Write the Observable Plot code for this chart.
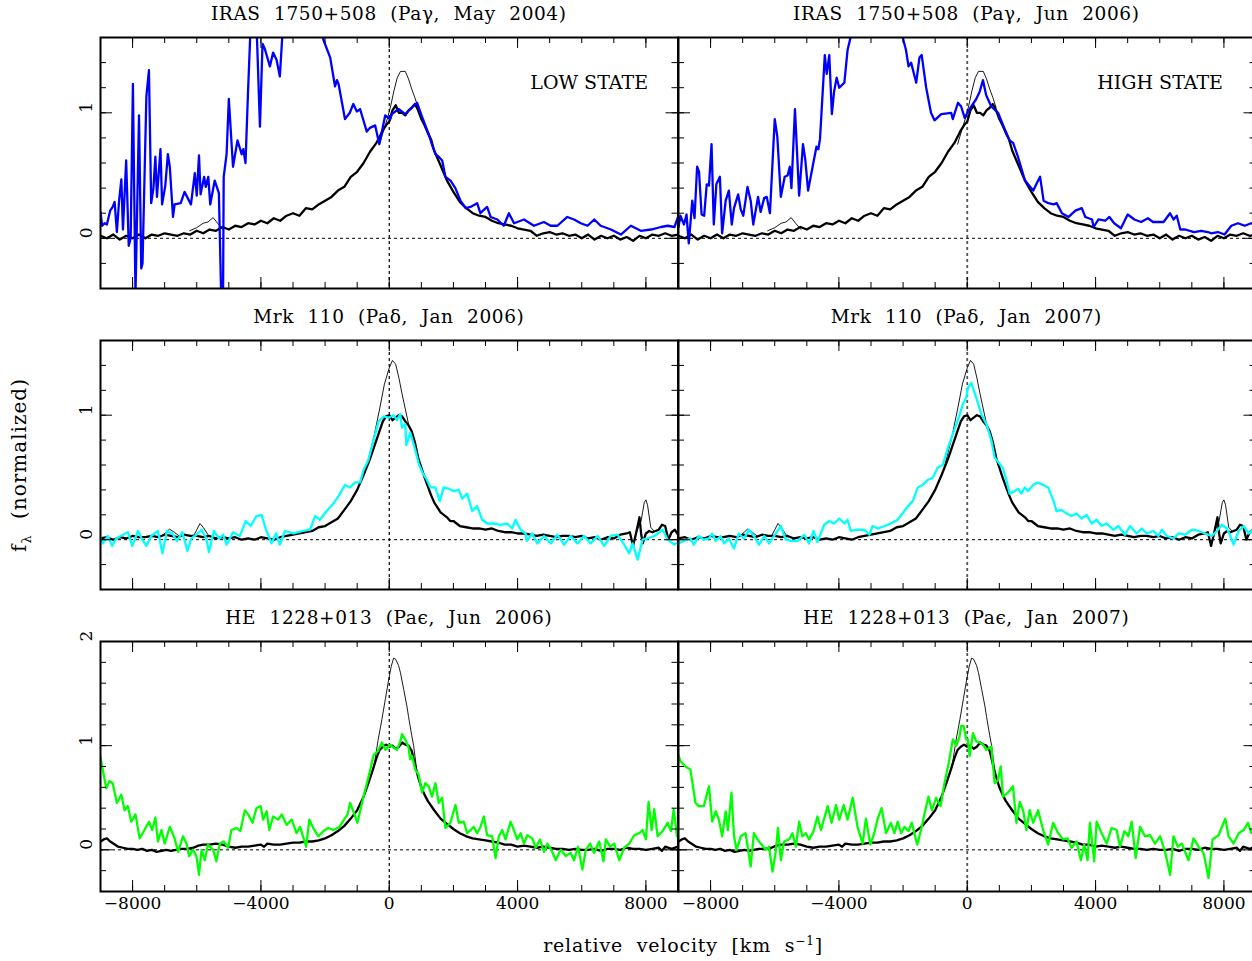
<!DOCTYPE html>
<html><head><meta charset="utf-8">
<script src="https://cdn.jsdelivr.net/npm/d3@7"></script>
<script src="https://cdn.jsdelivr.net/npm/@observablehq/plot@0.6"></script>
<style>
html,body{margin:0;padding:0;background:#fff;overflow:hidden;}
#fig{position:relative;width:1252px;height:961px;font-family:"DejaVu Serif",serif;color:#000;overflow:hidden;}
.ttl{position:absolute;transform:translate(-50%,-50%);white-space:nowrap;font-size:18.5px;letter-spacing:0.6px;word-spacing:7px;}
.ylab{position:absolute;transform:translate(-50%,-50%) rotate(-90deg);white-space:nowrap;font-size:20px;letter-spacing:1px;word-spacing:8px;}
.xlab{position:absolute;transform:translate(-50%,-50%);white-space:nowrap;font-size:19px;letter-spacing:0.8px;word-spacing:7px;}
</style></head><body><div id="fig"></div>
<script>
// ---------- tick values and labels ----------
const velMinorTicks = [-8000,-7000,-6000,-5000,-4000,-3000,-2000,-1000,0,1000,2000,3000,4000,5000,6000,7000,8000];
const velMajorTicks = [-8000,-4000,0,4000,8000];
const velTickLabels = ["\u22128000","\u22124000","0","4000","8000"];
const fluxMinorTicks = [-0.4,-0.2,0,0.2,0.4,0.6,0.8,1.0,1.2,1.4,1.6];
const fluxMinorTicksHE = [-0.4,-0.2,0,0.2,0.4,0.6,0.8,1.0,1.2,1.4,1.6,1.8,2.0];
const fluxMajorTicks = [0,1];
const fluxMajorTicksHE = [0,1,2];
const fluxTickLabels = ["0","1"];
const fluxTickLabelsHE = ["0","1","2"];
const panelTitles = ["IRAS 1750+508 (Pa\u03b3, May 2004)","IRAS 1750+508 (Pa\u03b3, Jun 2006)",
  "Mrk 110 (Pa\u03b4, Jan 2006)","Mrk 110 (Pa\u03b4, Jan 2007)",
  "HE 1228+013 (Pa\u03f5, Jun 2006)","HE 1228+013 (Pa\u03f5, Jan 2007)"];
const stateLabels = ["LOW STATE","HIGH STATE"];

// ---------- IRAS 1750+508 ----------
const irasThick = [[-9000,0.02],[-8800,0.0],[-8600,0.03],[-8400,-0.01],[-8200,0.02],[-8000,0.0],[-7800,0.03],[-7600,0.0],[-7400,0.03],[-7200,0.02],[-7000,0.04],[-6800,0.03],[-6600,0.02],[-6400,0.04],[-6200,0.03],[-6000,0.06],[-5800,0.04],[-5600,0.07],[-5400,0.06],[-5200,0.09],[-5000,0.07],[-4800,0.1],[-4600,0.09],[-4400,0.12],[-4200,0.11],[-4000,0.14],[-3800,0.12],[-3600,0.16],[-3400,0.14],[-3200,0.18],[-3000,0.2],[-2800,0.18],[-2600,0.24],[-2400,0.23],[-2200,0.27],[-2000,0.3],[-1800,0.33],[-1600,0.38],[-1400,0.41],[-1200,0.49],[-1000,0.53],[-800,0.6],[-600,0.69],[-400,0.76],[-200,0.86],[-100,0.9],[0,0.93],[100,1.02],[200,1.06],[300,1.0],[400,1.0],[500,0.98],[600,1.02],[700,1.04],[800,1.07],[900,1.02],[1000,0.95],[1100,0.9],[1200,0.84],[1300,0.79],[1400,0.7],[1500,0.64],[1600,0.58],[1800,0.46],[2000,0.37],[2200,0.29],[2400,0.24],[2600,0.2],[2800,0.18],[3000,0.17],[3200,0.14],[3400,0.12],[3600,0.11],[3800,0.1],[4000,0.08],[4200,0.07],[4400,0.06],[4600,0.02],[4800,0.04],[5000,0.05],[5200,0.03],[5400,0.04],[5600,0.02],[5800,0.03],[6000,0.0],[6200,0.03],[6400,-0.01],[6600,0.02],[6800,0.0],[7000,0.02],[7200,-0.01],[7400,0.01],[7600,-0.02],[7800,0.02],[8000,0.0],[8200,0.03],[8400,0.02],[8600,0.04],[8800,0.02],[9000,0.03]];
const irasThin = [[-6220,0.06,"a"],[-6000,0.085,"a"],[-5800,0.12,"a"],[-5650,0.13,"a"],[-5490,0.165,"a"],[-5350,0.12,"a"],[-5180,0.07,"a"],
  [-300,0.75,"b"],[-150,0.88,"b"],[-50,0.96,"b"],[50,1.06,"b"],[150,1.18,"b"],[250,1.28,"b"],[350,1.33,"b"],[500,1.33,"b"],[600,1.27,"b"],[700,1.19,"b"],[800,1.12,"b"],[900,1.04,"b"]];
const irasMay2004 = [[-9000,0.21],[-8950,0.10],[-8870,0.12],[-8800,0.11],[-8700,0.22],[-8620,0.25],[-8560,0.29],[-8490,0.05],[-8420,0.3],[-8350,0.47],[-8300,0.07],[-8200,0.62],[-8120,-0.06],[-8060,0.0],[-7990,1.23],[-7910,-0.45],[-7800,0.98],[-7730,-0.24],[-7690,-0.2],[-7570,1.13],[-7490,1.34],[-7420,0.28],[-7350,0.4],[-7290,0.65],[-7240,0.33],[-7130,0.71],[-7080,0.27],[-6980,0.42],[-6900,0.67],[-6840,0.57],[-6740,0.17],[-6690,0.27],[-6500,0.28],[-6380,0.37],[-6300,0.33],[-6180,0.27],[-6060,0.52],[-6000,0.34],[-5930,0.66],[-5880,0.35],[-5770,0.49],[-5720,0.41],[-5640,0.49],[-5580,0.27],[-5440,0.46],[-5310,0.36],[-5240,-0.45],[-5180,-0.45],[-5160,0.49],[-5070,0.67],[-5000,1.11],[-4870,0.57],[-4730,0.78],[-4600,0.67],[-4550,0.71],[-4480,0.6],[-4400,1.18],[-4320,1.7],[-4250,1.68],[-4150,1.8],[-4030,0.89],[-3950,1.55],[-3880,1.51],[-3720,1.37],[-3620,1.48],[-3510,1.42],[-3410,1.29],[-3300,1.75],[-3000,1.95],[-2700,2.05],[-2400,1.9],[-2050,1.58],[-1840,1.44],[-1690,1.21],[-1630,1.26],[-1580,1.23],[-1380,0.95],[-1230,1.0],[-1120,1.07],[-1010,1.01],[-910,1.03],[-700,0.85],[-600,0.88],[-440,0.9],[-310,0.75],[-125,0.98],[30,0.95],[80,0.99],[290,1.03],[500,0.99],[660,1.03],[865,1.08],[1020,0.97],[1230,0.83],[1340,0.74],[1440,0.67],[1540,0.65],[1650,0.62],[1750,0.49],[1910,0.46],[2060,0.4],[2220,0.3],[2380,0.24],[2530,0.25],[2740,0.28],[2840,0.2],[3050,0.25],[3160,0.17],[3370,0.15],[3570,0.1],[3730,0.2],[3890,0.12],[4200,0.15],[4510,0.1],[4820,0.13],[5030,0.1],[5240,0.1],[5550,0.17],[5760,0.15],[5970,0.12],[6180,0.1],[6390,0.15],[6590,0.1],[6910,0.07],[7220,0.03],[7530,0.1],[7840,0.06],[8160,0.07],[8470,0.09],[8680,0.1],[8890,0.09],[9000,0.17]];
const irasJun2006 = [[-9000,0.09],[-8940,0.18],[-8830,0.11],[-8750,0.19],[-8680,-0.04],[-8570,0.3],[-8500,0.16],[-8420,0.57],[-8360,0.53],[-8280,0.19],[-8200,0.18],[-8120,0.43],[-8050,0.42],[-7970,0.75],[-7900,0.11],[-7820,0.43],[-7710,0.49],[-7640,0.04],[-7530,0.3],[-7430,0.38],[-7340,0.11],[-7270,0.24],[-7140,0.35],[-7060,0.23],[-6980,0.18],[-6850,0.41],[-6750,0.3],[-6670,0.11],[-6520,0.33],[-6440,0.21],[-6330,0.32],[-6250,0.33],[-6150,0.2],[-6000,0.95],[-5920,0.81],[-5810,0.33],[-5690,0.49],[-5600,0.5],[-5530,0.57],[-5480,0.4],[-5370,1.03],[-5240,0.34],[-5120,0.75],[-5050,0.63],[-4960,0.38],[-4820,0.57],[-4700,0.73],[-4640,0.71],[-4590,0.79],[-4440,1.46],[-4380,1.31],[-4300,1.46],[-4220,0.99],[-4150,1.17],[-4070,1.28],[-3990,1.2],[-3830,1.24],[-3730,1.5],[-3620,1.62],[-3300,1.9],[-3000,2.1],[-2600,2.0],[-2200,1.8],[-2010,1.6],[-1910,1.5],[-1830,1.37],[-1750,1.4],[-1590,1.24],[-1490,1.44],[-1420,1.46],[-1280,1.2],[-1130,1.0],[-1020,0.94],[-810,0.99],[-500,1.0],[-450,0.95],[-290,1.08],[-190,1.05],[-80,0.96],[70,1.03],[280,1.11],[390,1.17],[490,1.26],[590,1.14],[750,1.05],[960,1.0],[1120,0.9],[1320,0.78],[1430,0.76],[1580,0.65],[1800,0.46],[1960,0.41],[2060,0.38],[2170,0.44],[2270,0.49],[2380,0.3],[2530,0.28],[2690,0.27],[2790,0.28],[2950,0.2],[3160,0.17],[3370,0.22],[3570,0.24],[3680,0.17],[3890,0.15],[3940,0.09],[4090,0.15],[4300,0.14],[4430,0.17],[4580,0.12],[4790,0.08],[5000,0.19],[5210,0.15],[5420,0.13],[5630,0.16],[5790,0.13],[6120,0.13],[6320,0.2],[6430,0.15],[6530,0.18],[6640,0.07],[6790,0.07],[7070,0.05],[7290,0.06],[7500,0.05],[7600,0.04],[7810,0.05],[8020,0.03],[8230,0.1],[8440,0.12],[8650,0.1],[8850,0.12],[9000,0.11]];

// ---------- Mrk 110 ----------
const mrkThick = [[-9000,0.01],[-8800,0.02],[-8600,0.0],[-8400,0.02],[-8200,0.01],[-8000,0.03],[-7800,0.02],[-7600,0.02],[-7400,0.03],[-7200,0.02],[-7000,0.04],[-6800,0.03],[-6600,0.02],[-6400,0.04],[-6200,0.03],[-6000,0.03],[-5800,0.02],[-5600,0.03],[-5400,0.01],[-5200,0.02],[-5000,0.01],[-4800,0.02],[-4600,0.0],[-4400,0.01],[-4200,0.0],[-4000,0.02],[-3800,0.01],[-3600,0.0],[-3400,0.02],[-3200,0.03],[-3000,0.04],[-2800,0.05],[-2600,0.06],[-2400,0.07],[-2200,0.1],[-2000,0.11],[-1800,0.14],[-1600,0.17],[-1400,0.24],[-1200,0.31],[-1000,0.4],[-800,0.52],[-600,0.65],[-400,0.8],[-200,0.95],[-100,0.99],[0,1.0],[100,0.96],[200,0.98],[300,1.0],[400,0.99],[500,0.95],[600,0.92],[700,0.87],[800,0.78],[900,0.66],[1000,0.58],[1100,0.5],[1200,0.43],[1300,0.36],[1400,0.3],[1500,0.26],[1600,0.22],[1800,0.18],[1900,0.15],[2000,0.15],[2200,0.11],[2400,0.1],[2600,0.09],[2800,0.09],[3000,0.08],[3200,0.09],[3400,0.07],[3600,0.06],[3800,0.06],[4000,0.05],[4200,0.05],[4400,0.04],[4600,0.03],[4800,0.04],[5000,0.03],[5200,0.02],[5400,0.03],[5600,0.03],[5800,0.02],[6000,0.03],[6200,0.01],[6400,0.02],[6600,0.0],[6800,0.02],[7000,0.01],[7200,0.04],[7400,0.05],[7500,0.06],[7600,-0.05],[7700,0.06],[7800,0.18],[7850,0.05],[7900,-0.03],[8000,0.05],[8100,0.07],[8200,0.06],[8400,0.08],[8500,0.12],[8600,0.11],[8700,0.0],[8800,0.06],[8900,0.08],[9000,0.04]];
const mrkThin = [[-7100,0.03,"a"],[-6950,0.06,"a"],[-6850,0.085,"a"],[-6700,0.06,"a"],[-6550,0.03,"a"],
  [-6100,0.03,"b"],[-6000,0.08,"b"],[-5900,0.13,"b"],[-5800,0.1,"b"],[-5650,0.04,"b"],
  [-700,0.6,"c"],[-500,0.8,"c"],[-300,1.05,"c"],[-150,1.25,"c"],[0,1.38,"c"],[100,1.44,"c"],[200,1.41,"c"],[300,1.3,"c"],[400,1.17,"c"],[500,1.05,"c"],[600,0.93,"c"],
  [7700,0.06,"d"],[7850,0.15,"d"],[7950,0.3,"d"],[8000,0.32,"d"],[8050,0.28,"d"],[8150,0.1,"d"],[8250,0.07,"d"]];
const mrkJan2006 = [[-9030,0.03],[-8930,-0.03],[-8770,0.03],[-8640,-0.05],[-8510,0.01],[-8300,0.04],[-8150,0.06],[-8010,-0.05],[-7830,0.07],[-7700,0.0],[-7570,-0.05],[-7420,0.03],[-7210,0.07],[-7070,-0.11],[-6930,0.07],[-6760,0.05],[-6620,-0.01],[-6450,0.06],[-6290,-0.09],[-6170,0.01],[-6010,0.04],[-5850,0.08],[-5700,0.01],[-5620,-0.1],[-5470,0.07],[-5300,0.01],[-5180,0.04],[-5070,-0.04],[-4870,0.06],[-4660,0.03],[-4470,0.15],[-4320,0.11],[-4140,0.19],[-3980,0.2],[-3840,0.08],[-3670,-0.03],[-3530,0.05],[-3410,-0.04],[-3250,0.07],[-2990,0.05],[-2680,0.07],[-2470,0.08],[-2310,0.19],[-2160,0.16],[-1950,0.23],[-1740,0.29],[-1580,0.35],[-1380,0.44],[-1220,0.42],[-1060,0.46],[-910,0.46],[-800,0.56],[-650,0.64],[-490,0.8],[-330,0.95],[-180,0.99],[-20,0.98],[135,1.0],[240,0.96],[344,1.01],[396,0.9],[500,0.93],[531,0.76],[656,0.86],[813,0.72],[917,0.61],[1052,0.53],[1177,0.48],[1281,0.42],[1438,0.42],[1573,0.31],[1698,0.42],[1854,0.41],[2010,0.39],[2167,0.4],[2271,0.33],[2427,0.37],[2583,0.23],[2740,0.27],[2896,0.16],[3052,0.13],[3260,0.13],[3469,0.12],[3677,0.13],[3833,0.09],[3938,0.16],[4094,0.08],[4250,0.05],[4281,-0.01],[4458,0.05],[4615,-0.03],[4823,0.03],[5031,-0.03],[5240,0.04],[5448,-0.04],[5656,0.03],[5865,-0.03],[6073,0.03],[6281,-0.03],[6490,0.03],[6698,-0.05],[6906,0.03],[7115,0.04],[7323,-0.04],[7479,-0.11],[7583,-0.03],[7740,-0.16],[7896,0.0],[8052,0.01],[8260,0.03],[8521,0.08],[8677,0.0],[8885,-0.04],[9000,-0.02]];
const mrkJan2007 = [[-9000,-0.03],[-8830,-0.01],[-8630,0.01],[-8520,-0.04],[-8370,0.03],[-8210,0.0],[-8050,0.01],[-7950,0.05],[-7840,-0.01],[-7690,0.03],[-7580,-0.03],[-7430,0.01],[-7270,-0.07],[-7120,0.05],[-6960,0.01],[-6800,0.08],[-6650,0.03],[-6490,-0.04],[-6330,0.03],[-6180,-0.03],[-6020,0.03],[-5810,0.11],[-5660,0.0],[-5500,-0.01],[-5290,-0.01],[-5080,0.04],[-4930,-0.03],[-4790,0.07],[-4670,-0.02],[-4460,0.12],[-4300,0.15],[-4150,0.13],[-3990,0.17],[-3830,0.13],[-3730,0.16],[-3630,0.07],[-3420,0.08],[-3210,0.08],[-3050,0.04],[-2950,0.11],[-2790,0.09],[-2580,0.11],[-2380,0.13],[-2170,0.16],[-1960,0.23],[-1850,0.27],[-1700,0.31],[-1540,0.42],[-1390,0.44],[-1230,0.48],[-1070,0.5],[-920,0.58],[-760,0.6],[-600,0.74],[-450,0.85],[-290,0.96],[-135,1.09],[-31,1.14],[21,1.22],[125,1.26],[281,1.14],[437,1.01],[594,0.93],[750,0.8],[854,0.66],[1010,0.61],[1115,0.57],[1219,0.48],[1323,0.37],[1479,0.39],[1583,0.41],[1688,0.37],[1792,0.42],[1896,0.39],[2052,0.44],[2188,0.46],[2365,0.44],[2521,0.42],[2677,0.32],[2781,0.23],[2937,0.24],[3094,0.21],[3250,0.19],[3406,0.21],[3562,0.17],[3719,0.2],[3875,0.13],[4031,0.16],[4188,0.11],[4344,0.13],[4552,0.08],[4708,0.11],[4917,0.04],[5073,0.11],[5281,0.05],[5438,0.09],[5594,0.05],[5802,0.07],[5958,0.03],[6063,0.08],[6219,0.03],[6427,0.01],[6583,0.05],[6792,0.04],[7000,0.08],[7208,0.07],[7417,0.05],[7625,0.03],[7781,0.07],[7938,0.12],[8094,0.09],[8198,0.03],[8302,-0.04],[8458,0.07],[8615,0.11],[8771,0.05],[9000,0.11]];

// ---------- HE 1228+013 ----------
const heThick = [[-9000,0.08],[-8900,0.1],[-8800,0.11],[-8700,0.08],[-8600,0.06],[-8450,0.03],[-8300,0.02],[-8150,0.01],[-8000,0.01],[-7850,0.0],[-7700,0.01],[-7550,-0.01],[-7400,0.0],[-7250,-0.02],[-7100,-0.01],[-6950,0.0],[-6800,-0.01],[-6650,0.0],[-6500,0.01],[-6300,0.01],[-6100,0.02],[-5950,0.04],[-5800,0.05],[-5600,0.05],[-5400,0.06],[-5200,0.05],[-5000,0.03],[-4800,0.02],[-4600,0.03],[-4400,0.03],[-4200,0.04],[-4000,0.05],[-3900,0.03],[-3800,0.06],[-3600,0.05],[-3400,0.05],[-3200,0.06],[-3000,0.07],[-2800,0.07],[-2600,0.08],[-2400,0.08],[-2200,0.09],[-2000,0.11],[-1800,0.14],[-1600,0.18],[-1400,0.23],[-1200,0.3],[-1000,0.38],[-800,0.51],[-650,0.64],[-500,0.78],[-400,0.88],[-300,0.96],[-200,0.99],[-100,1.01],[0,0.99],[100,1.0],[200,0.97],[300,0.99],[400,1.03],[500,1.01],[600,1.0],[700,0.95],[800,0.82],[900,0.7],[1000,0.6],[1100,0.53],[1200,0.47],[1400,0.38],[1600,0.3],[1800,0.25],[2000,0.2],[2200,0.16],[2400,0.13],[2600,0.11],[2800,0.1],[3000,0.09],[3200,0.08],[3400,0.07],[3600,0.05],[3800,0.05],[4000,0.03],[4200,0.04],[4400,0.03],[4600,0.02],[4800,0.03],[5000,0.02],[5200,0.01],[5400,0.01],[5600,0.0],[5800,0.01],[6000,0.0],[6200,0.0],[6400,0.01],[6600,-0.01],[6800,0.01],[7000,0.01],[7200,0.0],[7400,0.02],[7600,0.01],[7800,0.01],[8000,0.0],[8200,0.01],[8400,0.02],[8500,-0.01],[8600,0.03],[8800,0.01],[9000,0.03]];
const heThin = [[-500,0.78,"a"],[-450,0.85,"a"],[-350,1.05,"a"],[-230,1.25,"a"],[-120,1.45,"a"],[-20,1.63,"a"],[60,1.76,"a"],[135,1.84,"a"],[200,1.83,"a"],[290,1.77,"a"],[350,1.7,"a"],[450,1.54,"a"],[550,1.38,"a"],[600,1.28,"a"],[700,1.1,"a"],[760,1.0,"a"],[850,0.78,"a"]];
const heJun2006 = [[-9030,0.93],[-8930,0.77],[-8820,0.59],[-8720,0.66],[-8620,0.64],[-8490,0.45],[-8350,0.53],[-8250,0.38],[-8150,0.42],[-8040,0.27],[-7910,0.34],[-7780,0.11],[-7630,0.19],[-7490,0.27],[-7390,0.19],[-7290,0.31],[-7210,0.08],[-7100,0.19],[-7000,0.06],[-6840,0.22],[-6690,0.11],[-6580,-0.02],[-6430,0.13],[-6320,0.06],[-6240,-0.06],[-6120,0.0],[-6010,-0.06],[-5930,-0.24],[-5850,0.0],[-5750,-0.1],[-5650,0.05],[-5490,0.0],[-5390,-0.11],[-5280,0.06],[-5160,0.08],[-5020,0.02],[-4920,0.19],[-4760,0.21],[-4640,0.18],[-4500,0.38],[-4400,0.34],[-4260,0.26],[-4140,0.4],[-4010,0.42],[-3930,0.29],[-3820,0.37],[-3740,0.19],[-3620,0.32],[-3460,0.29],[-3350,0.34],[-3200,0.24],[-3040,0.29],[-2890,0.16],[-2780,0.22],[-2590,0.03],[-2490,0.29],[-2370,0.21],[-2210,0.13],[-2050,0.18],[-1900,0.21],[-1740,0.19],[-1550,0.22],[-1410,0.29],[-1300,0.34],[-1220,0.45],[-1120,0.37],[-990,0.26],[-850,0.45],[-720,0.61],[-590,0.77],[-490,0.91],[-350,0.95],[-230,1.03],[-125,0.96],[30,1.01],[135,0.98],[240,0.96],[344,1.04],[396,1.11],[500,1.06],[604,0.98],[650,0.87],[708,0.9],[813,0.77],[917,0.72],[1021,0.55],[1125,0.64],[1229,0.61],[1333,0.51],[1438,0.64],[1542,0.45],[1646,0.5],[1750,0.21],[1906,0.26],[2063,0.43],[2167,0.26],[2323,0.27],[2427,0.16],[2531,0.19],[2635,0.22],[2740,0.16],[2844,0.22],[2948,0.32],[3052,0.14],[3208,0.13],[3313,-0.08],[3417,0.13],[3521,0.19],[3625,0.1],[3781,0.27],[3885,0.19],[3990,0.1],[4094,0.16],[4198,0.06],[4302,0.14],[4458,0.11],[4563,0.02],[4698,0.1],[4823,-0.02],[4927,0.06],[5052,0.0],[5188,-0.1],[5344,0.0],[5500,-0.06],[5656,-0.03],[5760,-0.1],[5885,0.03],[6021,-0.19],[6125,0.0],[6260,0.06],[6385,-0.03],[6542,0.08],[6677,-0.11],[6750,0.1],[6885,0.03],[7010,0.06],[7167,-0.1],[7323,0.02],[7479,0.06],[7635,0.14],[7792,0.16],[7896,0.19],[8000,0.1],[8083,0.46],[8177,0.19],[8260,0.39],[8365,0.13],[8521,0.18],[8677,0.26],[8781,0.18],[8865,0.39],[8969,0.13],[9000,0.2]];
const heJan2007 = [[-9000,0.91],[-8940,0.85],[-8780,0.8],[-8630,0.77],[-8470,0.45],[-8370,0.42],[-8210,0.42],[-8050,0.61],[-7950,0.27],[-7840,0.37],[-7740,0.29],[-7640,0.13],[-7530,0.37],[-7460,0.19],[-7350,0.55],[-7270,0.13],[-7190,0.0],[-7060,0.13],[-6910,0.16],[-6750,-0.16],[-6650,0.16],[-6540,0.1],[-6440,0.06],[-6280,0.0],[-6180,0.03],[-6070,-0.21],[-5970,-0.02],[-5900,0.21],[-5810,-0.1],[-5710,0.08],[-5550,0.1],[-5450,0.16],[-5340,0.03],[-5240,0.27],[-5140,0.13],[-5030,0.16],[-4930,0.1],[-4790,0.18],[-4670,0.32],[-4560,0.19],[-4460,0.3],[-4350,0.42],[-4230,0.26],[-4090,0.43],[-3990,0.29],[-3850,0.43],[-3730,0.29],[-3570,0.5],[-3420,0.22],[-3260,0.06],[-3160,0.3],[-3020,0.05],[-2900,0.16],[-2790,0.3],[-2670,0.4],[-2530,0.16],[-2380,0.26],[-2270,0.16],[-2170,0.27],[-2060,0.16],[-1960,0.22],[-1830,0.18],[-1730,0.26],[-1560,0.05],[-1440,0.19],[-1330,0.35],[-1210,0.51],[-1100,0.38],[-970,0.5],[-830,0.42],[-710,0.64],[-580,0.83],[-450,1.06],[-340,1.0],[-240,1.09],[-190,1.19],[-115,1.19],[-31,1.06],[21,1.06],[73,0.9],[177,1.12],[281,1.04],[385,1.03],[490,1.01],[594,0.96],[750,0.99],[854,0.64],[958,0.67],[1042,0.8],[1115,0.51],[1271,0.55],[1427,0.61],[1531,0.26],[1635,0.46],[1740,0.38],[1844,0.19],[1947,0.38],[2052,0.26],[2208,0.38],[2365,0.19],[2521,0.05],[2677,0.26],[2833,0.16],[2990,0.1],[3125,0.11],[3250,0.02],[3406,0.08],[3542,-0.1],[3646,0.05],[3750,-0.1],[3823,0.26],[3958,-0.11],[4031,0.27],[4188,0.16],[4344,0.06],[4500,0.21],[4656,0.19],[4760,0.03],[4896,0.18],[5021,0.13],[5125,0.27],[5250,-0.08],[5385,0.22],[5542,0.13],[5698,0.14],[5854,0.06],[6010,0.13],[6167,-0.02],[6323,-0.24],[6427,0.13],[6563,0.03],[6688,0.06],[6896,-0.1],[7052,0.11],[7208,0.03],[7365,-0.03],[7521,-0.27],[7646,0.1],[7833,0.14],[8042,0.3],[8146,0.13],[8302,0.06],[8458,0.16],[8615,0.19],[8750,0.26],[8854,0.16],[9000,0.22]];

// ---------- layout ----------
const colX = [[100, 677.5], [677.5, 1255]];
const rowY = [[37, 288], [340, 589], [641, 891]];
const font = "DejaVu Serif";
const fig = document.getElementById("fig");

const panels = [
  {row:0,col:0,title:panelTitles[0],thick:irasThick,thin:irasThin,obs:irasMay2004,color:"#0000ff",state:stateLabels[0]},
  {row:0,col:1,title:panelTitles[1],thick:irasThick,thin:irasThin,obs:irasJun2006,color:"#0000ff",state:stateLabels[1]},
  {row:1,col:0,title:panelTitles[2],thick:mrkThick,thin:mrkThin,obs:mrkJan2006,color:"#00ffff"},
  {row:1,col:1,title:panelTitles[3],thick:mrkThick,thin:mrkThin,obs:mrkJan2007,color:"#00ffff"},
  {row:2,col:0,title:panelTitles[4],thick:heThick,thin:heThin,obs:heJun2006,color:"#00ff00"},
  {row:2,col:1,title:panelTitles[5],thick:heThick,thin:heThin,obs:heJan2007,color:"#00ff00"}
];

for (const p of panels) {
  const [X0, X1] = colX[p.col];
  const [Y0, Y1] = rowY[p.row];
  const iw = X1 - X0, ih = Y1 - Y0;
  const mL = 40, mR = 6, mT = 6, mB = 36;
  const he = p.row === 2;
  const yDomain = he ? [-0.4, 2.0] : [-0.4, 1.6];
  const yMinor = he ? fluxMinorTicksHE : fluxMinorTicks;
  const yMajor = he ? fluxMajorTicksHE : fluxMajorTicks;
  const yLabels = he ? fluxTickLabelsHE : fluxTickLabels;
  const tk = {stroke: "black", strokeWidth: 1};
  const marks = [
    Plot.ruleY([0], {stroke: "black", strokeWidth: 1, strokeDasharray: "3,3"}),
    Plot.ruleX([0], {stroke: p.col === 1 ? "#555" : "black", strokeWidth: p.col === 1 ? 1.8 : 1.2, strokeDasharray: "3,3"}),
    Plot.line(p.thin, {x: d => d[0], y: d => d[1], z: d => d[2], stroke: "black", strokeWidth: 0.9, clip: true}),
    Plot.line(p.thick, {x: d => d[0], y: d => d[1], stroke: "black", strokeWidth: 2.3, clip: true}),
    Plot.line(p.obs, {x: d => d[0], y: d => d[1], stroke: p.color, strokeWidth: 2.3, clip: true}),
    Plot.tickX(velMinorTicks, {x: d => d, insetTop: ih - 6, ...tk}),
    Plot.tickX(velMinorTicks, {x: d => d, insetBottom: ih - 6, ...tk}),
    Plot.tickX(velMajorTicks, {x: d => d, insetTop: ih - 11, ...tk}),
    Plot.tickX(velMajorTicks, {x: d => d, insetBottom: ih - 11, ...tk}),
    Plot.tickY(yMinor, {y: d => d, insetRight: iw - 6, ...tk}),
    Plot.tickY(yMinor, {y: d => d, insetLeft: iw - 6, ...tk}),
    Plot.tickY(yMajor, {y: d => d, insetRight: iw - 12, ...tk}),
    Plot.tickY(yMajor, {y: d => d, insetLeft: iw - 12, ...tk}),
    Plot.frame({stroke: "black", strokeWidth: 2})
  ];
  if (p.row === 2) {
    marks.push(Plot.text(velMajorTicks, {x: d => d, text: (d, i) => velTickLabels[i], frameAnchor: "bottom", dy: 17, fontSize: 17, fontFamily: font, fill: "black"}));
  }
  if (p.col === 0) {
    marks.push(Plot.text(yMajor, {y: d => d, text: (d, i) => yLabels[i], frameAnchor: "left", dx: -14, rotate: -90, fontSize: 17, fontFamily: font, fill: "black"}));
  }
  if (p.state) {
    marks.push(Plot.text([p.state], {text: d => d, frameAnchor: "top-right", textAnchor: "end", lineAnchor: "middle", dx: p.col === 1 ? -33 : -30, dy: 45, fontSize: 19, fontFamily: font, fill: "black"}));
  }
  const svg = Plot.plot({
    width: iw + mL + mR, height: ih + mT + mB,
    marginLeft: mL, marginRight: mR, marginTop: mT, marginBottom: mB,
    x: {domain: [-9000, 9000], axis: null},
    y: {domain: yDomain, axis: null},
    marks
  });
  svg.style.position = "absolute";
  svg.style.left = (X0 - mL) + "px";
  svg.style.top = (Y0 - mT) + "px";
  svg.style.background = "none";
  svg.style.overflow = "visible";
  svg.style.maxWidth = "none";
  fig.appendChild(svg);

  const t = document.createElement("div");
  t.className = "ttl";
  t.textContent = p.title;
  t.style.left = ((X0 + X1) / 2) + "px";
  t.style.top = (Y0 - 24) + "px";
  fig.appendChild(t);
}

const yl = document.createElement("div");
yl.className = "ylab";
yl.innerHTML = "f<sub style='font-size:13px'>\u03bb</sub> (normalized)";
yl.style.left = "20px"; yl.style.top = "465px";
fig.appendChild(yl);

const xl = document.createElement("div");
xl.className = "xlab";
xl.innerHTML = "relative velocity [km s<sup style='font-size:12px'>\u22121</sup>]";
xl.style.left = "683px"; xl.style.top = "945px";
fig.appendChild(xl);
</script></body></html>
